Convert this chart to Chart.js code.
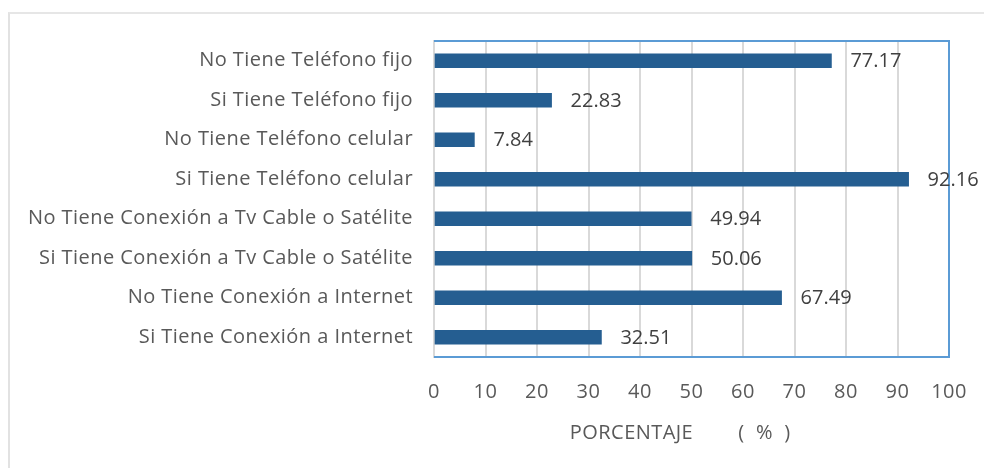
<!DOCTYPE html>
<html>
<head>
<meta charset="utf-8">
<script src="https://cdn.jsdelivr.net/npm/chart.js@4/dist/chart.umd.min.js"></script>
<style>
    html, body { margin: 0; padding: 0; background: #fff; }
    #wrap { position: relative; width: 984px; height: 468px; overflow: hidden; }
    #frame { position: absolute; left: 8px; top: 12px; width: 1000px; height: 500px;
             border-top: 2px solid #e6e6e6; border-left: 2px solid #e2e2e2; }
    canvas { position: absolute; left: 0; top: 0; }
</style>
</head>
<body>
<div id="wrap">
    <div id="frame"></div>
    <canvas id="barChart" width="984" height="468"></canvas>
</div>
<script>
const categories = [
    'No Tiene Teléfono fijo',
    'Si Tiene Teléfono fijo',
    'No Tiene Teléfono celular',
    'Si Tiene Teléfono celular',
    'No Tiene Conexión a Tv Cable o Satélite',
    'Si Tiene Conexión a Tv Cable o Satélite',
    'No Tiene Conexión a Internet',
    'Si Tiene Conexión a Internet'
];
const porcentaje = [77.17, 22.83, 7.84, 92.16, 49.94, 50.06, 67.49, 32.51];
const xTicks = [0, 10, 20, 30, 40, 50, 60, 70, 80, 90, 100];
// los espacios finales corren el titulo un poco a la izquierda, como en el original
const axisTitle = 'PORCENTAJE        (  %  )    ';

const FONT = "'Open Sans', sans-serif";

// un poco de espacio entre letras, como en el original
const spacing = {
    id: 'spacing',
    beforeLayout(chart) { chart.ctx.letterSpacing = '0.45px'; },
    beforeDraw(chart) { chart.ctx.letterSpacing = '0.45px'; }
};

// borde azul del area de trazado
const plotBorder = {
    id: 'plotBorder',
    beforeDatasetsDraw(chart) {
        const { ctx, chartArea: a } = chart;
        ctx.save();
        ctx.strokeStyle = '#5b9bd5';
        ctx.lineWidth = 2;
        ctx.beginPath();
        ctx.moveTo(a.left, a.top);
        ctx.lineTo(a.right, a.top);
        ctx.lineTo(a.right, a.bottom);
        ctx.lineTo(a.left, a.bottom);
        ctx.stroke();
        ctx.restore();
    }
};

// etiquetas de valor al final de cada barra
const valueLabels = {
    id: 'valueLabels',
    afterDatasetsDraw(chart) {
        const { ctx } = chart;
        const meta = chart.getDatasetMeta(0);
        ctx.save();
        ctx.letterSpacing = '0px';
        ctx.font = '20px ' + FONT;
        ctx.fillStyle = '#404040';
        ctx.textAlign = 'left';
        ctx.textBaseline = 'middle';
        meta.data.forEach((bar, i) => {
            ctx.fillText(porcentaje[i].toFixed(2), bar.x + 19, bar.y + 1);
        });
        ctx.restore();
    }
};

new Chart(document.getElementById('barChart'), {
    type: 'bar',
    data: {
        labels: categories,
        datasets: [{
            data: porcentaje,
            backgroundColor: '#255e91',
            barThickness: 14
        }]
    },
    options: {
        indexAxis: 'y',
        responsive: false,
        animation: false,
        layout: { padding: { top: 41, right: 35, left: 0, bottom: 0 } },
        plugins: {
            legend: { display: false },
            tooltip: { enabled: false }
        },
        scales: {
            x: {
                min: 0,
                max: 100,
                afterBuildTicks: scale => { scale.ticks = xTicks.map(v => ({ value: v })); },
                grid: { color: '#d9d9d9', lineWidth: 2, drawTicks: false },
                border: { display: false },
                ticks: { color: '#595959', font: { family: FONT, size: 20 }, padding: 23 },
                title: {
                    display: true,
                    text: axisTitle,
                    color: '#595959',
                    font: { family: FONT, size: 20 },
                    padding: { top: 0, bottom: 23 }
                },
                afterFit: scale => {
                    scale.height = 111;
                    scale.paddingLeft = 0;
                    scale.paddingRight = 0;
                }
            },
            y: {
                grid: { display: false, drawTicks: false },
                border: { display: true, color: '#d9d9d9', width: 2 },
                ticks: { color: '#595959', font: { family: FONT, size: 20 }, padding: 21 },
                afterFit: scale => { scale.width = 434; }
            }
        }
    },
    plugins: [spacing, plotBorder, valueLabels]
});
</script>
</body>
</html>
